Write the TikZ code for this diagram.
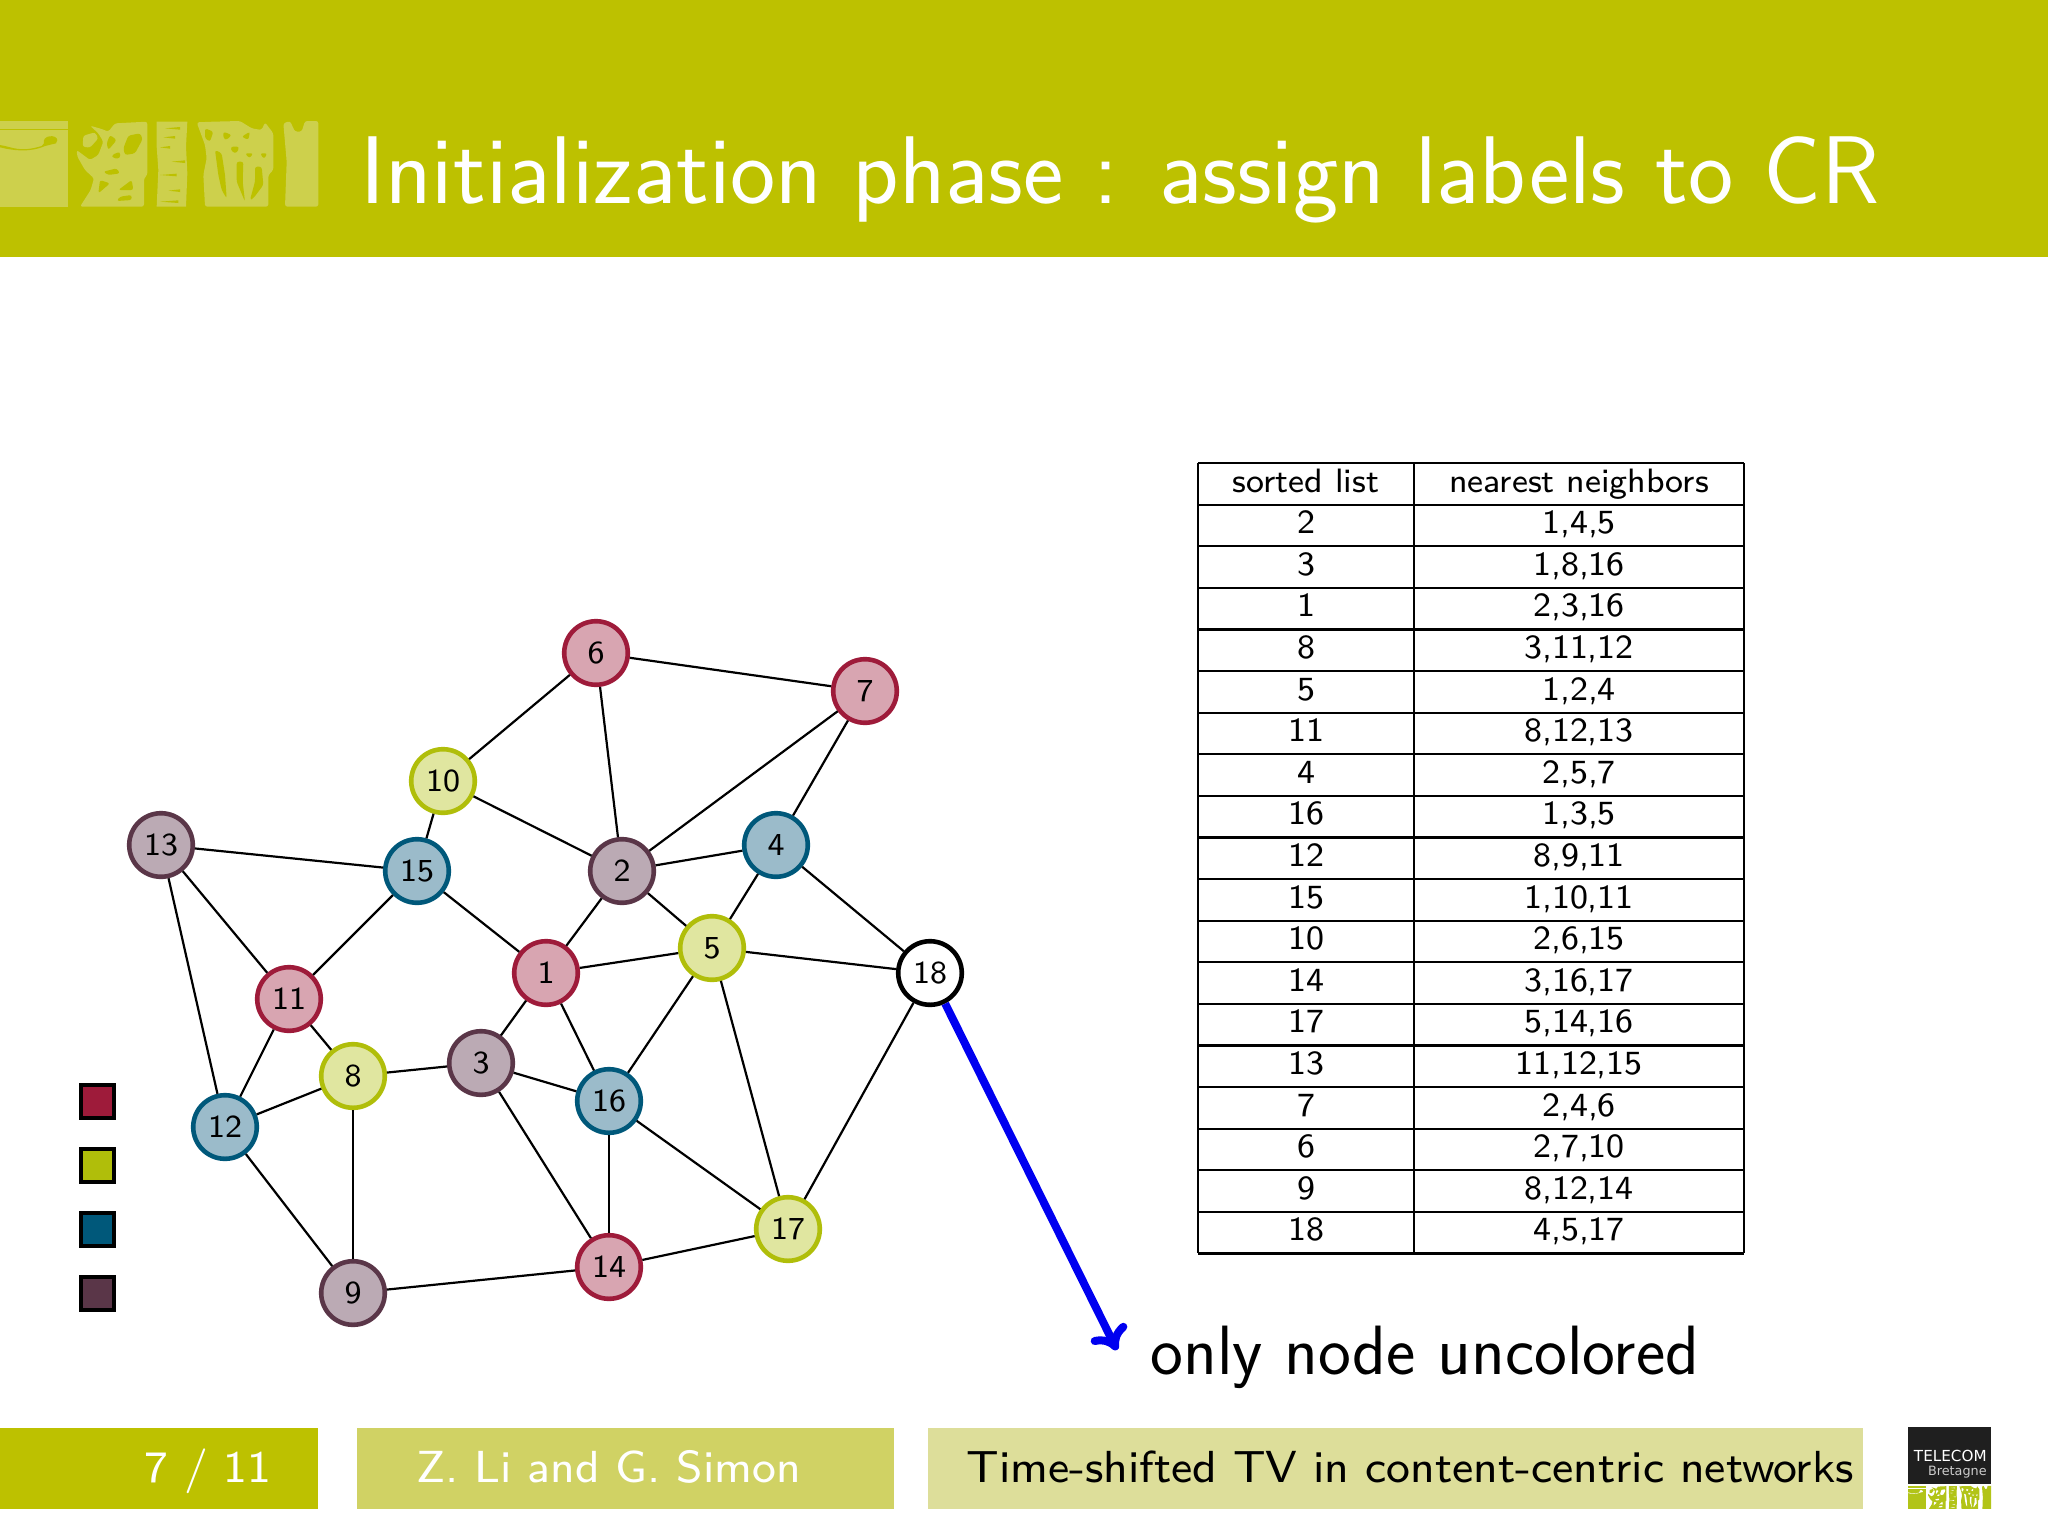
\documentclass[tikz,border=0pt]{standalone}
\usepackage{fontspec}
\usepackage{xcolor}
\setmainfont{Latin Modern Sans}
\newfontfamily\smallsans{Latin Modern Sans}[OpticalSize=8]
\newfontfamily\logofont{DejaVu Sans}
\usetikzlibrary{arrows.meta}
\definecolor{headlime}{RGB}{189,193,0}
\definecolor{logolight}{RGB}{205,208,76}
\definecolor{footmid}{RGB}{208,210,100}
\definecolor{footlight}{RGB}{221,222,154}
\definecolor{cred}{RGB}{158,27,58}
\definecolor{clime}{RGB}{176,190,10}
\definecolor{cblue}{RGB}{0,88,122}
\definecolor{cpurple}{RGB}{90,54,72}
\definecolor{tred}{RGB}{216,165,177}
\definecolor{tlime}{RGB}{224,230,160}
\definecolor{tblue}{RGB}{155,187,202}
\definecolor{tpurple}{RGB}{187,170,180}
\definecolor{logosmall}{RGB}{178,196,24}
\newcommand{\logoshapes}[2]{%
  \fill[#1] (0,183) rectangle (205,440);
  \fill[#2] (0,255) .. controls (40,262) and (60,278) .. (125,258) -- (132,250) .. controls (125,225) and (170,222) .. (172,240) -- (168,250) -- (135,258) .. controls (90,278) and (40,272) .. (0,262) -- cycle;
  \fill[#2] (0,207) rectangle (205,210);
  \begin{scope}[shift={(210,165)},logoround]
  \fill[#1] (30,275) -- (62,225) -- (72,190) -- (45,165) -- (22,125) -- (20,105) -- (60,135) -- (85,120) -- (100,80) -- (85,55) -- (60,32) -- (95,42) -- (115,50) -- (135,25) -- (232,20) -- (232,180) -- (222,190) -- (222,275) -- cycle;
  \fill[#1] (40,62) -- (75,52) -- (85,70) -- (60,98) -- (38,95) -- cycle;
  \fill[#2] (175,62) -- (210,55) -- (218,72) -- (195,115) -- (165,120) -- (160,100) -- cycle;
  \fill[#2] (125,120) -- (150,110) -- (150,130) -- (130,130) -- cycle;
  \fill[#2] (100,170) -- (140,160) -- (150,175) -- (115,180) -- cycle;
  \fill[#2] (145,225) -- (185,195) -- (190,225) -- cycle;
  \fill[#2] (90,195) -- (120,205) -- (85,235) -- cycle;
  \fill[#2] (150,245) -- (185,240) -- (185,255) -- (140,258) -- cycle;
  \fill[#2] (120,60) -- (140,75) -- (115,105) -- (110,85) -- cycle;
  \end{scope}
  \fill[#1] (470,185) -- (562,185) -- (558,260) -- (562,340) -- (558,440) -- (470,440) -- (475,330) -- (470,260) -- cycle;
  \foreach \yy/\xa/\xb in {205/495/540,232/490/525,262/480/510,305/515/555,345/480/530,392/505/540,425/480/535}
    \fill[#2] (\xa,\yy) -- (\xb,\yy-4) -- (\xb,\yy+4) -- cycle;
  \begin{scope}[shift={(570,165)},logoround]
  \fill[#1] (20,22) -- (70,20) -- (150,18) -- (185,40) -- (215,45) -- (225,22) -- (250,55) -- (250,165) -- (235,180) -- (235,275) -- (45,275) -- (40,180) -- (50,130) -- (45,90) -- cycle;
  \fill[#2] (45,40) -- (70,50) -- (60,80) -- (45,70) -- cycle;
  \fill[#2] (100,50) -- (125,60) -- (110,75) -- (100,70) -- cycle;
  \fill[#2] (155,65) -- (180,50) -- (175,75) -- cycle;
  \fill[#2] (122,95) -- (148,95) -- (140,115) -- (125,110) -- cycle;
  \fill[#2] (165,115) -- (190,115) -- (178,130) -- cycle;
  \fill[#2] (210,115) -- (232,115) -- (222,132) -- cycle;
  \fill[#2] (75,105) -- (95,115) -- (105,180) -- (110,250) -- (95,225) -- (85,180) -- cycle;
  \fill[#2] (140,140) -- (160,140) -- (158,200) -- (165,260) -- (140,200) -- cycle;
  \fill[#2] (195,155) -- (215,155) -- (220,210) -- (190,250) -- (180,255) -- (195,200) -- cycle;
  \fill[#1] (280,25) -- (300,18) -- (315,50) -- (335,50) -- (345,18) -- (385,18) -- (385,275) -- (285,275) -- (290,140) -- cycle;
  \end{scope}
}
\tikzset{
  x=0.5pt,y=-0.5pt,
  logoround/.style={},
  graphnode/.style={circle,line width=2.3pt,minimum size=31.8pt,inner sep=0pt,font=\smallsans\fontsize{16pt}{17pt}\selectfont,text=black},
  rednode/.style={graphnode,draw=cred,fill=tred},
  limenode/.style={graphnode,draw=clime,fill=tlime},
  bluenode/.style={graphnode,draw=cblue,fill=tblue},
  purplenode/.style={graphnode,draw=cpurple,fill=tpurple},
  blanknode/.style={graphnode,draw=black,fill=white},
  edgeline/.style={draw=black,line width=1.1pt},
  legendbox/.style={rectangle,draw=black,line width=2pt,minimum size=16.5pt,inner sep=0pt},
  cell/.style={anchor=base,inner sep=0pt,font=\smallsans\fontsize{16.9pt}{17pt}\selectfont},
  tableline/.style={draw=black,line width=1.1pt},
  foottext/.style={anchor=base west,inner sep=0pt,font=\smallsans\fontsize{22.45pt}{24pt}\selectfont},
}
\begin{document}
\begin{tikzpicture}
\useasboundingbox (0,0) rectangle (2048,1536);
\fill[white] (0,0) rectangle (2048,1536);
% header
\fill[headlime] (0,0) rectangle (2048,257);
\begin{scope}[shift={(0,60)},x=0.16667pt,y=-0.16667pt,logoround/.style={rounded corners=1.2pt}]
\logoshapes{logolight}{headlime}
\end{scope}
\node[anchor=base west,inner sep=0pt,text=white,font=\fontsize{48.1pt}{50pt}\selectfont] (title) at (360,203) {Initialization phase : assign labels to CR};
% footer
\fill[headlime] (0,1428) rectangle (318,1509);
\fill[footmid] (357,1428) rectangle (894,1509);
\fill[footlight] (928,1428) rectangle (1863,1509);
\node[foottext,text=white] (page) at (144,1482) {7 / 11};
\node[foottext,text=white] (authors) at (416,1482) {Z. Li and G. Simon};
\node[foottext,text=black] (talk) at (966,1482) {Time-shifted TV in content-centric networks};
% small logo
\fill[black!88] (1908,1427) rectangle (1991,1484);
\node[anchor=base east,inner sep=0pt,text=white,font=\logofont\fontsize{7.6pt}{8pt}\selectfont] (tele) at (1987,1461) {TELECOM};
\node[anchor=base east,inner sep=0pt,text=black!20,font=\logofont\fontsize{6.4pt}{7pt}\selectfont] (bret) at (1987,1475) {Bretagne};
\begin{scope}[shift={(1908,1469.6)},x=0.0435pt,y=-0.0447pt]
\logoshapes{logosmall}{white}
\end{scope}
% legend
\node[legendbox,fill=cred] (la) at (97,1101) {};
\node[legendbox,fill=clime] (lb) at (97,1165) {};
\node[legendbox,fill=cblue] (lc) at (97,1229) {};
\node[legendbox,fill=cpurple] (ld) at (97,1293) {};
% graph nodes
\node[rednode] (n1) at (546,973) {1};
\node[purplenode] (n2) at (622,871) {2};
\node[purplenode] (n3) at (481,1063) {3};
\node[bluenode] (n4) at (776,845) {4};
\node[limenode] (n5) at (712,948) {5};
\node[rednode] (n6) at (596,653) {6};
\node[rednode] (n7) at (865,691) {7};
\node[limenode] (n8) at (353,1076) {8};
\node[purplenode] (n9) at (353,1293) {9};
\node[limenode] (n10) at (443,781) {10};
\node[rednode] (n11) at (289,999) {11};
\node[bluenode] (n12) at (225,1127) {12};
\node[purplenode] (n13) at (161,845) {13};
\node[rednode] (n14) at (609,1267) {14};
\node[bluenode] (n15) at (417,871) {15};
\node[bluenode] (n16) at (609,1101) {16};
\node[limenode] (n17) at (788,1229) {17};
\node[blanknode] (n18) at (930,973) {18};
\foreach \a/\b in {6/10,6/2,6/7,7/2,7/4,10/2,10/15,13/15,13/11,13/12,15/11,15/1,2/4,2/1,2/5,4/5,4/18,5/1,5/18,5/16,5/17,1/3,1/16,3/8,3/16,3/14,11/8,11/12,8/12,8/9,12/9,9/14,16/14,16/17,14/17,17/18}
  \draw[edgeline] (n\a) -- (n\b);
% arrow
\coordinate (arrowend) at (1117,1350);
\draw[draw={rgb,255:red,0;green,0;blue,240},line width=4pt,-{Computer Modern Rightarrow[length=11pt,width=20pt]}] (n18) -- (arrowend);
\node[anchor=base west,inner sep=0pt,font=\fontsize{34.9pt}{38pt}\selectfont] (only) at (1150,1374) {only node uncolored};
% table
\foreach \i in {0,...,19}
  \draw[tableline] (1198,463+41.6*\i) -- (1744,463+41.6*\i);
\foreach \xx in {1198,1414,1744}
  \draw[tableline] (\xx,463) -- (\xx,1253.4);
\node[cell] (hs) at (1306,492) {sorted list};
\node[cell] (hn) at (1579,492) {nearest neighbors};
\foreach \i/\s/\t in {1/2/{1,4,5},2/3/{1,8,16},3/1/{2,3,16},4/8/{3,11,12},5/5/{1,2,4},6/11/{8,12,13},7/4/{2,5,7},8/16/{1,3,5},9/12/{8,9,11},10/15/{1,10,11},11/10/{2,6,15},12/14/{3,16,17},13/17/{5,14,16},14/13/{11,12,15},15/7/{2,4,6},16/6/{2,7,10},17/9/{8,12,14},18/18/{4,5,17}} {
  \node[cell] (s\i) at (1306,492+41.6*\i) {\s};
  \node[cell] (t\i) at (1579,492+41.6*\i) {\t};
}
\end{tikzpicture}
\end{document}
